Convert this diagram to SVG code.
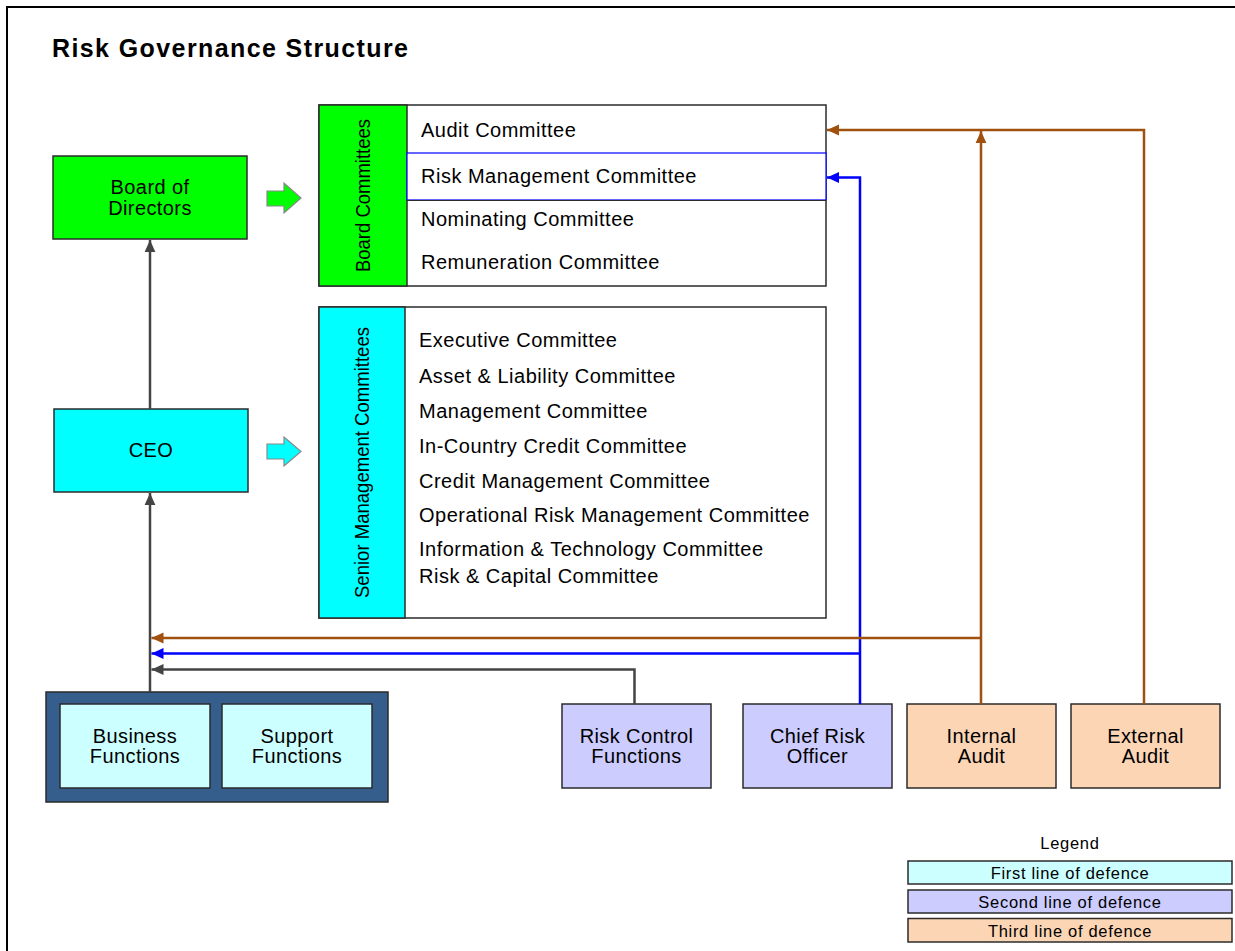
<svg xmlns="http://www.w3.org/2000/svg" width="1235" height="951" viewBox="0 0 1235 951">
<style>
  text { font-family: "Liberation Sans", Arial, Helvetica, sans-serif; fill: #000; }
  .item { font-size: 20px; letter-spacing: 0.5px; }
  .lbl { font-size: 20px; letter-spacing: 0.4px; text-anchor: middle; }
  .leg { font-size: 16.5px; letter-spacing: 0.7px; text-anchor: middle; }
  .box { stroke: #2b2b2b; stroke-width: 1.5; }
  .gray { fill: none; stroke: #444; stroke-width: 2.5; }
  .blue { fill: none; stroke: #0000FF; stroke-width: 2.5; }
  .brown { fill: none; stroke: #A0500F; stroke-width: 2.5; }
</style>
<defs>
  <marker id="ag" markerUnits="userSpaceOnUse" markerWidth="12" markerHeight="12" viewBox="0 0 10 10" refX="10" refY="5" orient="auto">
    <path d="M0,0.5 L10,5 L0,9.5 Z" fill="#444"/>
  </marker>
  <marker id="ab" markerUnits="userSpaceOnUse" markerWidth="12" markerHeight="12" viewBox="0 0 10 10" refX="10" refY="5" orient="auto">
    <path d="M0,0.5 L10,5 L0,9.5 Z" fill="#0000FF"/>
  </marker>
  <marker id="ar" markerUnits="userSpaceOnUse" markerWidth="12" markerHeight="12" viewBox="0 0 10 10" refX="10" refY="5" orient="auto">
    <path d="M0,0.5 L10,5 L0,9.5 Z" fill="#A0500F"/>
  </marker>
</defs>

<rect x="0" y="0" width="1235" height="951" fill="#fff"/>
<rect x="7" y="7" width="1240" height="960" fill="none" stroke="#000" stroke-width="2"/>

<text x="52" y="57" font-size="25" font-weight="bold" letter-spacing="1.4">Risk Governance Structure</text>

<g id="board-of-directors">
  <rect class="box" x="53" y="156" width="194" height="83" fill="#00FF00"/>
  <text class="lbl" x="150" y="194">Board of</text>
  <text class="lbl" x="150" y="215">Directors</text>
</g>

<g id="arrow-board">
  <path d="M267,191 H284 V183 L301,198 L284,213 V206 H267 Z" fill="#00FF00" stroke="#888" stroke-width="1.2"/>
</g>

<g id="board-committees">
  <rect class="box" x="319" y="105" width="507" height="181" fill="#fff"/>
  <rect class="box" x="319" y="105" width="88" height="181" fill="#00FF00"/>
  <rect x="407" y="153" width="419" height="47" fill="#fff" stroke="#0000FF" stroke-width="1.2"/>
  <line x1="407" y1="200.5" x2="826" y2="200.5" stroke="#2b2b2b" stroke-width="1"/>
  <text transform="translate(370,272) rotate(-90)" font-size="21" textLength="153" lengthAdjust="spacingAndGlyphs">Board Committees</text>
  <text class="item" x="421" y="137">Audit  Committee</text>
  <text class="item" x="421" y="183">Risk Management  Committee</text>
  <text class="item" x="421" y="226">Nominating Committee</text>
  <text class="item" x="421" y="269">Remuneration Committee</text>
</g>

<g id="ceo">
  <rect class="box" x="54" y="409" width="194" height="83" fill="#00FFFF"/>
  <text class="lbl" x="151" y="457">CEO</text>
</g>

<g id="arrow-ceo">
  <path d="M267,444 H284 V437 L301,451.5 L284,466 V459 H267 Z" fill="#00FFFF" stroke="#888" stroke-width="1.2"/>
</g>

<g id="senior-management-committees">
  <rect class="box" x="319" y="307" width="507" height="311" fill="#fff"/>
  <rect class="box" x="319" y="307" width="86" height="311" fill="#00FFFF"/>
  <text transform="translate(369,598) rotate(-90)" font-size="21" textLength="271" lengthAdjust="spacingAndGlyphs">Senior Management Committees</text>
  <text class="item" x="419" y="347">Executive Committee</text>
  <text class="item" x="419" y="383">Asset &amp; Liability Committee</text>
  <text class="item" x="419" y="418">Management  Committee</text>
  <text class="item" x="419" y="453">In-Country Credit Committee</text>
  <text class="item" x="419" y="488">Credit Management  Committee</text>
  <text class="item" x="419" y="522">Operational Risk Management Committee</text>
  <text class="item" x="419" y="556">Information &amp; Technology Committee</text>
  <text class="item" x="419" y="583">Risk &amp; Capital Committee</text>
</g>

<g id="first-line-group">
  <rect class="box" x="46" y="692" width="342" height="110" fill="#355E8D"/>
  <g id="business-functions">
    <rect class="box" x="60" y="704" width="150" height="84" fill="#CCFFFF"/>
    <text class="lbl" x="135" y="743">Business</text>
    <text class="lbl" x="135" y="763">Functions</text>
  </g>
  <g id="support-functions">
    <rect class="box" x="222" y="704" width="150" height="84" fill="#CCFFFF"/>
    <text class="lbl" x="297" y="743">Support</text>
    <text class="lbl" x="297" y="763">Functions</text>
  </g>
</g>

<g id="risk-control-functions">
  <rect class="box" x="562" y="704" width="149" height="84" fill="#CCCCFF"/>
  <text class="lbl" x="636.5" y="743">Risk Control</text>
  <text class="lbl" x="636.5" y="763">Functions</text>
</g>

<g id="chief-risk-officer">
  <rect class="box" x="743" y="704" width="149" height="84" fill="#CCCCFF"/>
  <text class="lbl" x="817.5" y="743">Chief Risk</text>
  <text class="lbl" x="817.5" y="763">Officer</text>
</g>

<g id="internal-audit">
  <rect class="box" x="907" y="704" width="149" height="84" fill="#FCD5B5"/>
  <text class="lbl" x="981.5" y="743">Internal</text>
  <text class="lbl" x="981.5" y="763">Audit</text>
</g>

<g id="external-audit">
  <rect class="box" x="1071" y="704" width="149" height="84" fill="#FCD5B5"/>
  <text class="lbl" x="1145.5" y="743">External</text>
  <text class="lbl" x="1145.5" y="763">Audit</text>
</g>

<g id="connectors">
  <path class="gray" d="M150,692 V493" marker-end="url(#ag)"/>
  <path class="gray" d="M150,409 V240" marker-end="url(#ag)"/>
  <path class="gray" d="M634.5,704 V669.5 H151.5" marker-end="url(#ag)"/>
  <path class="blue" d="M860,704 V177.5 H827" marker-end="url(#ab)"/>
  <path class="blue" d="M860,653.5 H151.5" marker-end="url(#ab)"/>
  <path class="brown" d="M1144,704 V130 H827" marker-end="url(#ar)"/>
  <path class="brown" d="M981,704 V131" marker-end="url(#ar)"/>
  <path class="brown" d="M981,638 H151.5" marker-end="url(#ar)"/>
</g>

<g id="legend">
  <text class="leg" x="1070" y="849">Legend</text>
  <rect class="box" x="908" y="861" width="324" height="23" fill="#CCFFFF"/>
  <text class="leg" x="1070" y="879">First line of defence</text>
  <rect class="box" x="908" y="890" width="324" height="23" fill="#CCCCFF"/>
  <text class="leg" x="1070" y="908">Second line of defence</text>
  <rect class="box" x="908" y="918.5" width="324" height="23.5" fill="#FCD5B5"/>
  <text class="leg" x="1070" y="937">Third line of defence</text>
</g>
</svg>
